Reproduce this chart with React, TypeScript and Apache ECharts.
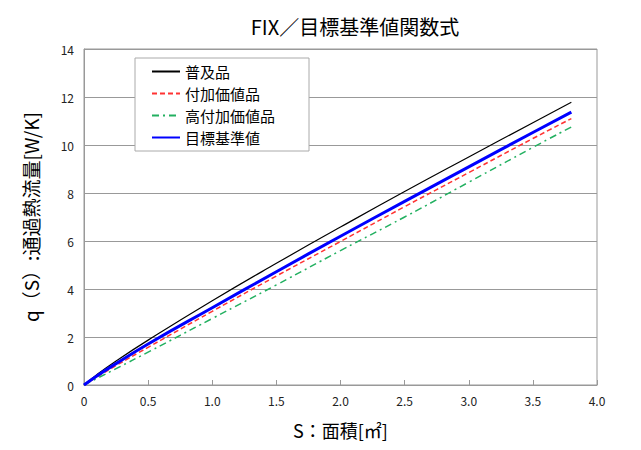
import React, { useEffect, useRef } from "react";
import * as echarts from "echarts";

const areaS = [0, 0.1, 0.25, 0.5, 1.0, 1.5, 2.0, 2.5, 3.0, 3.5, 3.8];
const futsuhin = [0, 0.43, 1.0, 1.87, 3.51, 5.07, 6.58, 8.06, 9.5, 10.93, 11.78];
const fukaKachi = [0, 0.33, 0.81, 1.57, 3.07, 4.54, 5.98, 7.43, 8.85, 10.27, 11.1];
const kouFukaKachi = [0, 0.27, 0.68, 1.37, 2.77, 4.17, 5.6, 7.0, 8.45, 9.9, 10.75];
const mokuhyou = [0, 0.38, 0.89, 1.71, 3.22, 4.72, 6.2, 7.65, 9.09, 10.52, 11.37];

const seriesNames = ["普及品", "付加価値品", "高付加価値品", "目標基準値"];
const FONT = "'Noto Sans CJK JP', 'Noto Sans', sans-serif";

const zip = (ys: number[]) => areaS.map((s, i) => [s, ys[i]]);

export default function App() {
  const ref = useRef<HTMLDivElement>(null);
  useEffect(() => {
    if (!ref.current) return;
    const chart = echarts.init(ref.current, null, { renderer: "svg" });
    chart.setOption({
      animation: false,
      backgroundColor: "#fff",
      textStyle: { fontFamily: FONT },
      title: {
        text: "FIX／目標基準値関数式",
        left: 350,
        top: 11,
        textAlign: "center",
        textStyle: { fontFamily: FONT, fontSize: 20, fontWeight: "normal", color: "#000" },
      },
      grid: {
        left: 84,
        right: 44,
        top: 49,
        bottom: 65,
        show: true,
        borderColor: "#999",
        borderWidth: 1,
        backgroundColor: "#fff",
      },
      legend: {
        orient: "vertical",
        left: 135,
        top: 58,
        data: seriesNames,
        itemWidth: 28,
        itemHeight: 14,
        itemGap: 7,
        padding: [6, 34, 6, 16],
        borderColor: "#aaa",
        borderWidth: 1,
        backgroundColor: "#fff",
        itemStyle: { opacity: 0 },
        textStyle: { fontFamily: FONT, fontSize: 15, color: "#000" },
      },
      xAxis: {
        type: "value",
        min: 0,
        max: 4,
        interval: 0.5,
        name: "S：面積[㎡]",
        nameLocation: "middle",
        nameGap: 36,
        nameTextStyle: { fontFamily: FONT, fontSize: 18, color: "#000" },
        axisLine: { show: true, lineStyle: { color: "#999" } },
        axisTick: { show: true, inside: true, length: 5, lineStyle: { color: "#999" } },
        axisLabel: {
          formatter: (v: number) => (v === 0 ? "0" : v.toFixed(1)),
          fontFamily: FONT,
          fontSize: 12,
          color: "#222",
          margin: 9,
        },
        splitLine: { show: false },
      },
      yAxis: {
        type: "value",
        min: 0,
        max: 14,
        interval: 2,
        name: "q（S）:通過熱流量[W/K]",
        nameLocation: "middle",
        nameGap: 44,
        nameRotate: 90,
        nameTextStyle: { fontFamily: FONT, fontSize: 19, color: "#000" },
        axisLine: { show: true, lineStyle: { color: "#999" } },
        axisTick: { show: false },
        axisLabel: { fontFamily: FONT, fontSize: 12, color: "#222", margin: 10 },
        splitLine: { show: true, lineStyle: { color: "#999", width: 1 } },
      },
      graphic: [
        { type: "line", shape: { x1: 3.5, y1: 2, x2: 3.5, y2: 450 }, style: { stroke: "#777", lineWidth: 1.2 } },
        { type: "line", shape: { x1: 3, y1: 2.5, x2: 641, y2: 2.5 }, style: { stroke: "#777", lineWidth: 1.2 } },
      ],
      series: [
        {
          name: seriesNames[0],
          type: "line",
          data: zip(futsuhin),
          smooth: true,
          symbol: "none",
          color: "#000",
          lineStyle: { color: "#000", width: 1.2, type: "solid" },
          z: 3,
        },
        {
          name: seriesNames[1],
          type: "line",
          data: zip(fukaKachi),
          smooth: true,
          symbol: "none",
          color: "#ff3333",
          lineStyle: { color: "#ff3333", width: 1.5, type: [5, 3] },
          z: 3,
        },
        {
          name: seriesNames[2],
          type: "line",
          data: zip(kouFukaKachi),
          smooth: true,
          symbol: "none",
          color: "#22b060",
          lineStyle: { color: "#22b060", width: 1.5, type: [7, 4, 2, 4] },
          z: 3,
        },
        {
          name: seriesNames[3],
          type: "line",
          data: zip(mokuhyou),
          smooth: true,
          symbol: "none",
          color: "#0000ff",
          lineStyle: { color: "#0000ff", width: 3, type: "solid" },
          z: 4,
        },
      ],
    });
    return () => chart.dispose();
  }, []);
  return <div ref={ref} style={{ width: 641, height: 450, margin: -8 }} />;
}
